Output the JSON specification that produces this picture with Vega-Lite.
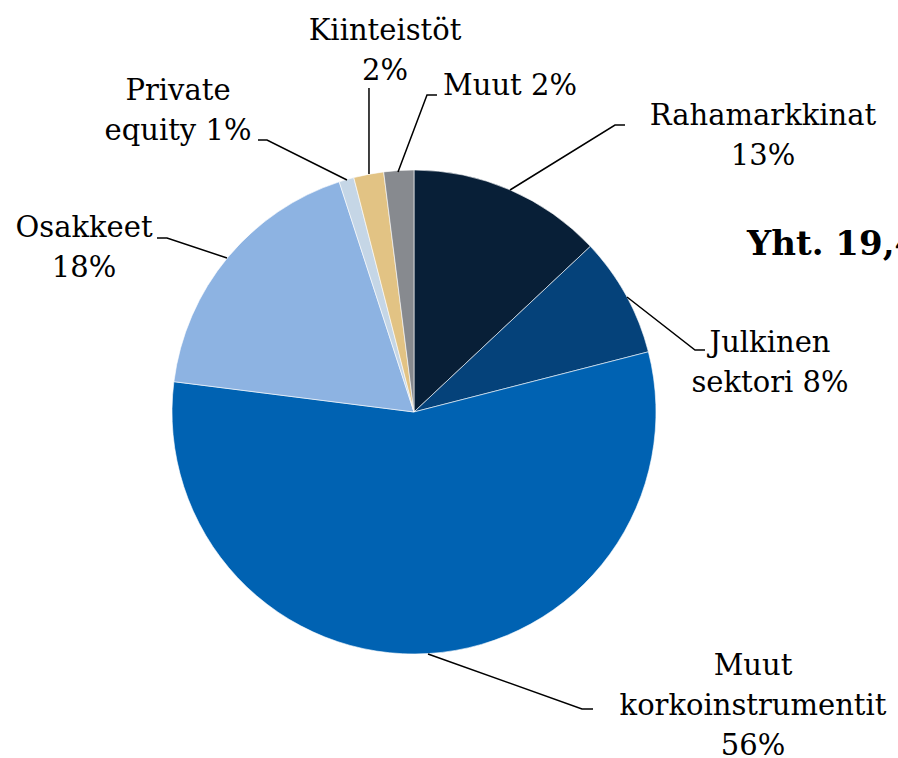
{
  "$schema": "https://vega.github.io/schema/vega-lite/v6.json",
  "autosize": {"type": "none"},
  "padding": 0,
  "width": 898,
  "height": 758,
  "background": "#ffffff",
  "config": {"view": {"stroke": null}},
  "datasets": {
    "slices": [
      {"category": "Rahamarkkinat", "value": 13, "order": 1},
      {"category": "Julkinen sektori", "value": 8, "order": 2},
      {"category": "Muut korkoinstrumentit", "value": 56, "order": 3},
      {"category": "Osakkeet", "value": 18, "order": 4},
      {"category": "Private equity", "value": 1, "order": 5},
      {"category": "Kiinteistöt", "value": 2, "order": 6},
      {"category": "Muut", "value": 2, "order": 7}
    ],
    "leaders": [
      {"category": "Rahamarkkinat", "seq": 1, "x": 39.67, "y": 91.74},
      {"category": "Rahamarkkinat", "seq": 2, "x": 83.06, "y": 118.6},
      {"category": "Rahamarkkinat", "seq": 3, "x": 87.19, "y": 118.6},
      {"category": "Julkinen sektori", "seq": 1, "x": 88.02, "y": 47.52},
      {"category": "Julkinen sektori", "seq": 2, "x": 116.12, "y": 25.62},
      {"category": "Julkinen sektori", "seq": 3, "x": 120.25, "y": 25.62},
      {"category": "Muut korkoinstrumentit", "seq": 1, "x": 5.79, "y": -100.0},
      {"category": "Muut korkoinstrumentit", "seq": 2, "x": 69.42, "y": -122.73},
      {"category": "Muut korkoinstrumentit", "seq": 3, "x": 73.97, "y": -122.73},
      {"category": "Osakkeet", "seq": 1, "x": -77.27, "y": 63.64},
      {"category": "Osakkeet", "seq": 2, "x": -102.07, "y": 71.9},
      {"category": "Osakkeet", "seq": 3, "x": -106.2, "y": 71.9},
      {"category": "Private equity", "seq": 1, "x": -27.69, "y": 95.87},
      {"category": "Private equity", "seq": 2, "x": -60.74, "y": 112.4},
      {"category": "Private equity", "seq": 3, "x": -64.46, "y": 112.4},
      {"category": "Kiinteistöt", "seq": 1, "x": -18.6, "y": 98.35},
      {"category": "Kiinteistöt", "seq": 2, "x": -18.6, "y": 133.88},
      {"category": "Muut", "seq": 1, "x": -6.61, "y": 99.17},
      {"category": "Muut", "seq": 2, "x": 5.37, "y": 130.99},
      {"category": "Muut", "seq": 3, "x": 9.5, "y": 130.99}
    ],
    "labels": [
      {"text": "Rahamarkkinat\n13%", "x": 144.21, "y": 118.6},
      {"text": "Julkinen\nsektori 8%", "x": 147.11, "y": 24.79},
      {"text": "Muut\nkorkoinstrumentit\n56%", "x": 140.08, "y": -108.68},
      {"text": "Osakkeet\n18%", "x": -136.36, "y": 72.31},
      {"text": "Private\nequity 1%", "x": -97.52, "y": 128.93},
      {"text": "Kiinteistöt\n2%", "x": -11.98, "y": 153.72},
      {"text": "Muut 2%", "x": 39.67, "y": 130.99}
    ],
    "total": [
      {"text": "Yht. 19,4 mrd. €", "x": 137.6, "y": 64.88}
    ]
  },
  "layer": [
    {
      "data": {"name": "slices"},
      "mark": {"type": "arc", "outerRadius": 242, "stroke": "#ffffff", "strokeWidth": 0.6},
      "encoding": {
        "x": {"datum": 0, "type": "quantitative", "scale": {"domain": [-171.07, 200.0], "nice": false, "zero": false}, "axis": null},
        "y": {"datum": 0, "type": "quantitative", "scale": {"domain": [-142.98, 170.25], "nice": false, "zero": false}, "axis": null},
        "theta": {"field": "value", "type": "quantitative", "stack": true},
        "order": {"field": "order", "type": "quantitative"},
        "color": {
          "field": "category",
          "type": "nominal",
          "legend": null,
          "scale": {
            "domain": ["Rahamarkkinat", "Julkinen sektori", "Muut korkoinstrumentit", "Osakkeet", "Private equity", "Kiinteistöt", "Muut"],
            "range": ["#081f37", "#05427a", "#0062b2", "#8db3e2", "#c5d6e6", "#e2c384", "#878a8f"]
          }
        }
      }
    },
    {
      "data": {"name": "leaders"},
      "mark": {"type": "line", "color": "#000000", "strokeWidth": 1.5},
      "encoding": {
        "x": {"field": "x", "type": "quantitative", "scale": {"domain": [-171.07, 200.0], "nice": false, "zero": false}, "axis": null},
        "y": {"field": "y", "type": "quantitative", "scale": {"domain": [-142.98, 170.25], "nice": false, "zero": false}, "axis": null},
        "detail": {"field": "category", "type": "nominal"},
        "order": {"field": "seq", "type": "quantitative"}
      }
    },
    {
      "data": {"name": "labels"},
      "mark": {"type": "text", "font": "DejaVu Serif", "fontSize": 29, "lineHeight": 40, "lineBreak": "\n", "align": "center", "baseline": "alphabetic", "color": "#000000"},
      "encoding": {
        "x": {"field": "x", "type": "quantitative"},
        "y": {"field": "y", "type": "quantitative"},
        "text": {"field": "text", "type": "nominal"}
      }
    },
    {
      "data": {"name": "total"},
      "mark": {"type": "text", "font": "DejaVu Serif", "fontSize": 34, "fontWeight": "bold", "align": "left", "baseline": "alphabetic", "color": "#000000"},
      "encoding": {
        "x": {"field": "x", "type": "quantitative"},
        "y": {"field": "y", "type": "quantitative"},
        "text": {"field": "text", "type": "nominal"}
      }
    }
  ]
}
